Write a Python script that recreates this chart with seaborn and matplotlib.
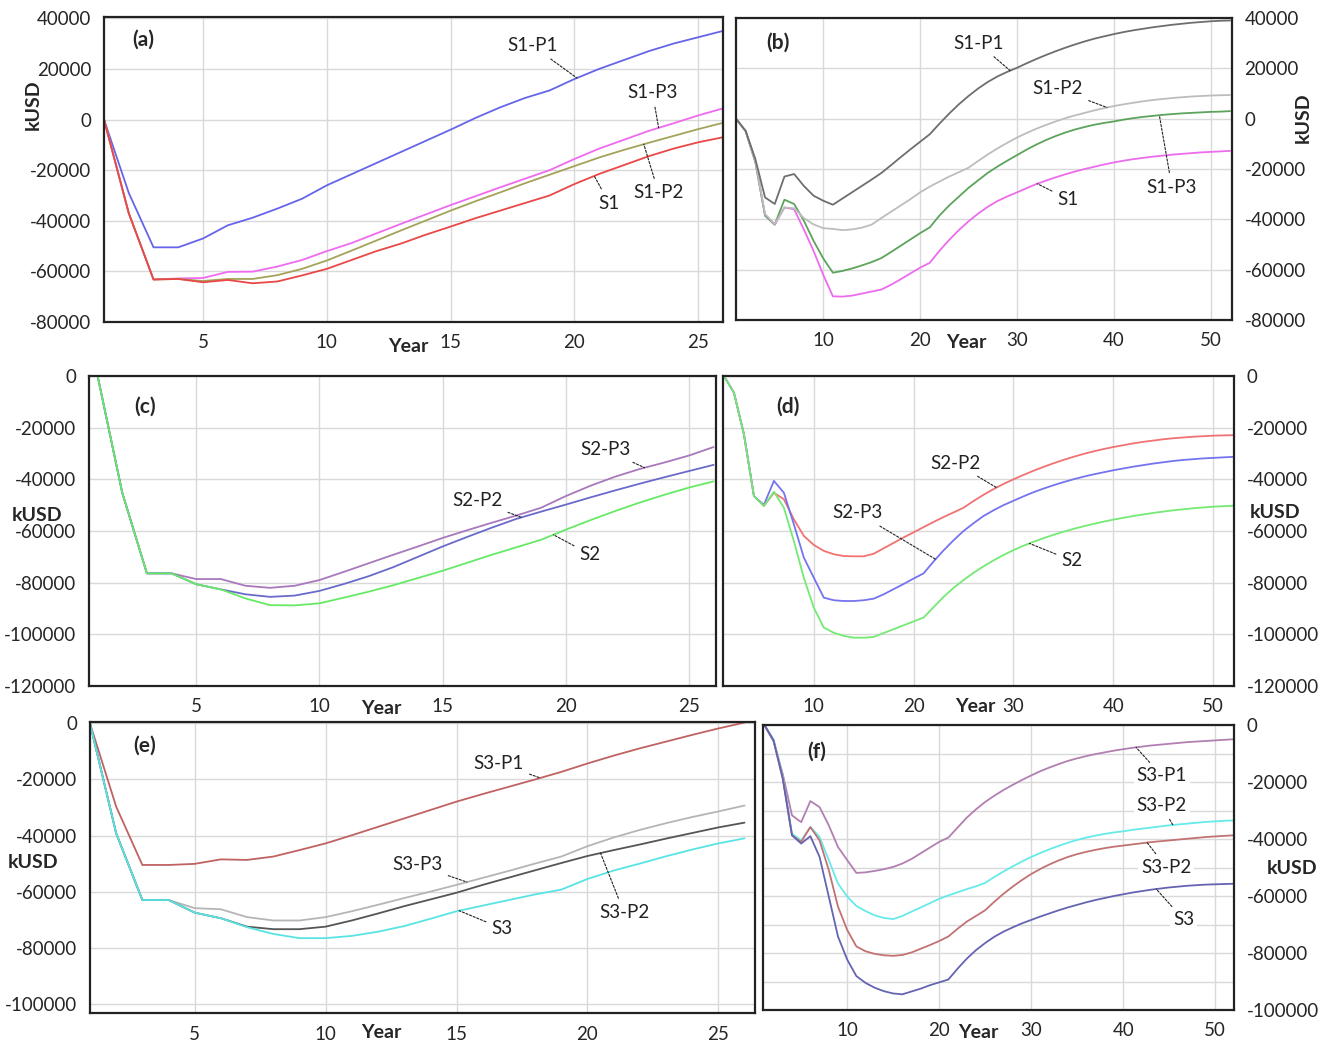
import numpy as np
import matplotlib
matplotlib.use("Agg")
import matplotlib.pyplot as plt
import seaborn as sns

# ---------------- data ----------------
years_a = list(range(1, 27))
years_b = list(range(1, 53))

a_S1P1 = [0, -29000, -50500, -50500, -47000, -41800, -38800, -35200, -31300, -26000, -21600, -17200, -12800,
          -8400, -4000, 600, 4800, 8500, 11500, 16000, 20000, 23500, 27000, 30000, 32500, 35000]
a_S1 = [0, -37000, -63200, -63000, -64300, -63400, -64700, -64000, -61600, -59000, -55500, -52000, -49000,
        -45500, -42300, -39000, -36000, -33000, -30000, -25500, -21500, -18000, -14500, -11500, -9000, -7000]
a_S1P2 = [0, -37000, -63200, -63000, -63800, -63000, -63000, -61500, -59000, -55700, -51800, -47800, -43800,
          -39900, -36000, -32300, -28800, -25200, -21800, -18400, -15000, -12000, -9200, -6500, -3800, -1300]
a_S1P3 = [0, -37000, -63200, -62800, -62600, -60200, -60100, -58100, -55500, -52000, -48800, -45000, -41200,
          -37500, -33800, -30300, -26800, -23400, -20000, -15600, -11500, -8000, -4500, -1500, 1600, 4400]

b_S1P1 = [0, -4900, -16100, -31300, -33900, -23000, -22000, -26700, -30600, -32600, -34200, -31700, -29200,
          -26700, -24200, -21600, -18500, -15300, -12200, -9200, -6200, -2000, 2000, 5700, 9000, 12000, 14600,
          16800, 18600, 20200, 22000, 23700, 25300, 26800, 28200, 29500, 30700, 31800, 32700, 33600, 34400,
          35100, 35700, 36300, 36800, 37300, 37700, 38100, 38400, 38700, 38900, 39000]
b_S1P2 = [0, -4900, -17000, -37900, -41900, -35300, -35600, -39500, -42000, -43500, -43800, -44300, -44000,
          -43300, -42100, -39500, -37000, -34500, -32000, -29300, -27000, -25000, -23000, -21300, -19500, -16800,
          -14200, -11800, -9600, -7500, -5700, -4000, -2500, -1100, 200, 1300, 2300, 3300, 4200, 5000, 5700,
          6300, 6900, 7400, 7800, 8200, 8500, 8800, 9000, 9200, 9300, 9400]
b_S1P3 = [0, -5000, -17000, -38500, -42000, -32200, -33900, -40500, -48500, -55500, -61200, -60500, -59500,
          -58300, -57000, -55400, -53000, -50500, -48000, -45500, -43200, -38500, -34500, -31000, -27500, -24500,
          -21500, -19000, -16700, -14500, -12300, -10300, -8500, -6900, -5500, -4300, -3300, -2400, -1700, -1100,
          -400, 200, 700, 1100, 1500, 1800, 2100, 2300, 2500, 2700, 2800, 3000]
b_S1 = [0, -5000, -17500, -38500, -42200, -35300, -36000, -44000, -52500, -62000, -70600, -70700, -70300,
        -69500, -68700, -67900, -66000, -63800, -61500, -59200, -57300, -52500, -48200, -44300, -40800, -37700,
        -35000, -32700, -30900, -29300, -27600, -26000, -24600, -23300, -22100, -21000, -20000, -19100, -18200,
        -17400, -16700, -16100, -15600, -15100, -14700, -14300, -14000, -13700, -13400, -13200, -13000, -12800]

c_S2 = [0, -45200, -76400, -76400, -80600, -82600, -86100, -88700, -88800, -88000, -85800, -83500, -81000,
        -78200, -75400, -72300, -69200, -66300, -63400, -59500, -55800, -52300, -49000, -46000, -43200, -40800]
c_S2P2 = [0, -45200, -76400, -76400, -80600, -82600, -84500, -85500, -85000, -83200, -80500, -77500, -74000,
          -70000, -66000, -62300, -58700, -55300, -52500, -49800, -47000, -44300, -41700, -39200, -36800, -34400]
c_S2P3 = [0, -45200, -76400, -76400, -78600, -78600, -81200, -82000, -81200, -79000, -75800, -72500, -69200,
          -66000, -62700, -59700, -56800, -54000, -51000, -46500, -42500, -39000, -36000, -33500, -30800, -27500]

d_S2 = [0, -6500, -22600, -46500, -50300, -44800, -51000, -63900, -78100, -89700, -97400, -99400, -100600,
        -101300, -101300, -101000, -99500, -98000, -96500, -95000, -93500, -89500, -85500, -82000, -79000,
        -76200, -73700, -71400, -69300, -67400, -65700, -64200, -62800, -61500, -60300, -59200, -58200, -57300,
        -56400, -55600, -54900, -54200, -53600, -53000, -52500, -52000, -51600, -51200, -50900, -50600, -50400,
        -50200]
d_S2P3 = [0, -6500, -22600, -46500, -49900, -40600, -45200, -57400, -70300, -78100, -85800, -86800, -87100,
          -87100, -86800, -86200, -84500, -82500, -80500, -78400, -76400, -71800, -67500, -63600, -60000, -57000,
          -54200, -52000, -50000, -48300, -46600, -45000, -43600, -42300, -41100, -40000, -39000, -38100, -37300,
          -36500, -35800, -35100, -34500, -33900, -33400, -32900, -32500, -32200, -31900, -31700, -31500, -31300]
d_S2P2 = [0, -6500, -22600, -46500, -50300, -45200, -47700, -55500, -61900, -65400, -67700, -69000, -69700,
          -69800, -69800, -68800, -66700, -64600, -62500, -60500, -58500, -56500, -54600, -52800, -51000, -48400,
          -46000, -43800, -41800, -40000, -38300, -36700, -35200, -33800, -32500, -31300, -30200, -29200, -28300,
          -27500, -26800, -26100, -25500, -25000, -24500, -24100, -23800, -23500, -23300, -23100, -23000, -22900]

e_S3P1 = [0, -29700, -50500, -50500, -50100, -48500, -48700, -47500, -45200, -42800, -39900, -36900, -33900,
          -30900, -27900, -25200, -22600, -20000, -17300, -14300, -11500, -8900, -6500, -4100, -1800, 300]
e_S3 = [0, -39200, -63000, -63000, -67500, -69500, -72700, -75100, -76600, -76600, -75800, -74300, -72300,
        -69700, -67000, -65000, -63000, -61000, -59300, -55500, -52500, -50000, -47400, -45000, -42800, -41000]
e_S3P2 = [0, -39200, -63000, -63000, -67500, -69500, -72500, -73400, -73400, -72500, -70300, -67800, -65200,
          -62800, -60400, -57600, -55000, -52400, -49800, -47300, -45200, -43200, -41100, -39100, -37100, -35400]
e_S3P3 = [0, -39200, -63000, -63000, -65900, -66300, -69100, -70300, -70300, -69100, -67000, -64700, -62300,
          -60000, -57600, -55100, -52600, -50000, -47500, -43800, -40700, -38000, -35600, -33400, -31400, -29300]

f_S3P1 = [0, -5600, -17200, -31700, -34100, -26700, -28800, -35200, -42800, -47400, -51900, -51700, -51200,
          -50600, -49800, -48600, -47000, -45000, -43000, -41000, -39500, -36000, -32500, -29600, -27000, -24800,
          -22800, -21000, -19300, -17700, -16200, -14900, -13700, -12600, -11700, -10900, -10200, -9600, -9000,
          -8500, -8000, -7600, -7200, -6900, -6600, -6300, -6000, -5800, -5600, -5400, -5200, -5000]
f_S3P2_cyan = [0, -5000, -18000, -38100, -40500, -35800, -39300, -47400, -55600, -60200, -63500, -65300, -66800,
               -67700, -68100, -67000, -65500, -64000, -62500, -61000, -59800, -58700, -57600, -56600, -55400,
               -53300, -51400, -49600, -47900, -46300, -44900, -43600, -42400, -41300, -40300, -39500, -38800,
               -38200, -37700, -37300, -36800, -36400, -36000, -35600, -35200, -34900, -34600, -34300, -34000,
               -33800, -33600, -33500]
f_S3P2_brown = [0, -5500, -18500, -38700, -41000, -35800, -40500, -50900, -63700, -71900, -77700, -79400, -80300,
                -80800, -81000, -80700, -79800, -78500, -77200, -75800, -74200, -71500, -69000, -67000, -65000,
                -62000, -59200, -56700, -54400, -52300, -50500, -48900, -47500, -46300, -45300, -44500, -43800,
                -43200, -42700, -42300, -41900, -41500, -41100, -40800, -40500, -40200, -39900, -39600, -39300,
                -39100, -38900, -38700]
f_S3 = [0, -5500, -19000, -38700, -41600, -39000, -46300, -60200, -74200, -82300, -88100, -90500, -92200,
        -93400, -94200, -94500, -93500, -92500, -91300, -90300, -89300, -85500, -82000, -79000, -76500, -74300,
        -72500, -71000, -69600, -68400, -67200, -66100, -65000, -64000, -63100, -62200, -61400, -60700, -60000,
        -59400, -58800, -58300, -57800, -57400, -57000, -56700, -56400, -56200, -56000, -55900, -55800, -55700]

# ---------------- style ----------------
sns.set_style("white")
plt.rcParams['font.family'] = ['Lato', 'DejaVu Sans']

W, H = 1327, 1042
fig = plt.figure(figsize=(W / 100, H / 100), dpi=100)


def place(l, t, r, b):
    return fig.add_axes([l / W, 1 - b / H, (r - l) / W, (b - t) / H])


def style(ax, xlim, ylim, xticks, yticks, right=False, minor=None):
    ax.set_xlim(*xlim)
    ax.set_ylim(*ylim)
    ax.set_xticks(xticks)
    ax.set_yticks(yticks)
    ax.set_yticklabels([str(v) for v in yticks])
    if minor is not None:
        ax.set_yticks(minor, minor=True)
        ax.grid(True, which='minor', axis='y', color='#d9d9d9', lw=1.0)
    ax.grid(True, which='major', color='#d9d9d9', lw=1.0)
    ax.set_axisbelow(True)
    for s in ax.spines.values():
        s.set_color('#222222')
        s.set_linewidth(1.6)
        s.set_visible(True)
    ax.tick_params(length=0, labelsize=13.5, pad=9, which='both')
    if right:
        ax.yaxis.tick_right()
    ax.set_xlabel("")
    ax.set_ylabel("")


def line(ax, x, y, color):
    sns.lineplot(x=x, y=y, ax=ax, color=color, lw=1.3)


def note(ax, text, x, y, tx, ty, box=False):
    ax.annotate(text, xy=(x, y), xytext=(tx, ty), textcoords='data', ha='center', va='center',
                fontsize=13.5, color='#222222',
                bbox=dict(boxstyle='square,pad=0.15', fc='white', ec='none') if box else None,
                arrowprops=dict(arrowstyle='-', ls=(0, (2, 1.5)), lw=0.8, color='#222222',
                                shrinkA=2, shrinkB=0))


def at(x, years, vals):
    return float(np.interp(x, years, vals))


def ftext(px, py, s, **kw):
    fig.text(px / W, 1 - py / H, s, ha='center', va='center', fontsize=14, fontweight='bold', **kw)


def plabel(ax, fx, fy, s):
    ax.text(fx, fy, s, transform=ax.transAxes, fontsize=15, fontweight='bold', va='center')


# ---------------- (a) ----------------
ax = place(104, 17, 723, 322)
line(ax, years_a, a_S1P1, '#6565ea')
line(ax, years_a, a_S1P3, '#f06af0')
line(ax, years_a, a_S1P2, '#a3a35a')
line(ax, years_a, a_S1, '#ea4848')
style(ax, (1, 26), (-80000, 40500), [5, 10, 15, 20, 25], list(range(-80000, 40001, 20000)))
note(ax, 'S1-P1', 20.1, at(20.1, years_a, a_S1P1), 18.3, 29200)
note(ax, 'S1-P3', 23.4, at(23.4, years_a, a_S1P3), 23.15, 10600)
note(ax, 'S1-P2', 22.8, at(22.8, years_a, a_S1P2), 23.4, -29000)
note(ax, 'S1', 20.8, at(20.8, years_a, a_S1), 21.4, -33000)
plabel(ax, 0.045, 0.925, '(a)')
ftext(408, 346, 'Year')
ftext(33, 105, 'kUSD', rotation=90)

# ---------------- (b) ----------------
ax = place(736, 18, 1232, 320)
line(ax, years_b, b_S1, '#ec6cec')
line(ax, years_b, b_S1P3, '#5ca35c')
line(ax, years_b, b_S1P2, '#bdbdbd')
line(ax, years_b, b_S1P1, '#6e6e6e')
style(ax, (1, 52.2), (-80000, 40000), [10, 20, 30, 40, 50], list(range(-80000, 40001, 20000)), right=True)
note(ax, 'S1-P1', 29.3, at(29.3, years_b, b_S1P1), 26, 30000)
note(ax, 'S1-P2', 39.3, at(39.3, years_b, b_S1P2), 34.2, 11800)
note(ax, 'S1-P3', 44.7, at(44.7, years_b, b_S1P3), 46, -27200)
note(ax, 'S1', 32.1, at(32.1, years_b, b_S1), 35.3, -32000)
plabel(ax, 0.06, 0.92, '(b)')
ftext(966, 343, 'Year')
ftext(1303, 118, 'kUSD', rotation=90)

# ---------------- (c) ----------------
ax = place(89, 376, 716, 686)
line(ax, years_a, c_S2P3, '#a878bc')
line(ax, years_a, c_S2P2, '#6a6acc')
line(ax, years_a, c_S2, '#66ea66')
style(ax, (0.65, 26.1), (-120000, 0), [5, 10, 15, 20, 25], list(range(-120000, 1, 20000)))
note(ax, 'S2-P3', 23.2, at(23.2, years_a, c_S2P3), 21.6, -28400)
note(ax, 'S2-P2', 18.2, at(18.2, years_a, c_S2P2), 16.4, -48200)
note(ax, 'S2', 19.5, at(19.5, years_a, c_S2), 21.0, -69100)
plabel(ax, 0.072, 0.9, '(c)')
ftext(381, 708, 'Year')
ftext(37, 515, 'kUSD')

# ---------------- (d) ----------------
ax = place(723, 376, 1234, 686)
line(ax, years_b, d_S2P2, '#f07272')
line(ax, years_b, d_S2P3, '#7474f0')
line(ax, years_b, d_S2, '#74ea74')
style(ax, (0.9, 52.1), (-120000, 0), [10, 20, 30, 40, 50], list(range(-120000, 1, 20000)), right=True)
note(ax, 'S2-P2', 28.3, at(28.3, years_b, d_S2P2), 24.2, -33700)
note(ax, 'S2-P3', 22.2, at(22.2, years_b, d_S2P3), 14.4, -53000)
note(ax, 'S2', 31.6, at(31.6, years_b, d_S2), 35.9, -71500)
plabel(ax, 0.105, 0.9, '(d)')
ftext(975, 706, 'Year')
ftext(1275, 513, 'kUSD')

# ---------------- (e) ----------------
ax = place(90, 722, 755, 1013)
line(ax, years_a, e_S3P1, '#c06262')
line(ax, years_a, e_S3P3, '#b5b5b5')
line(ax, years_a, e_S3P2, '#555555')
line(ax, years_a, e_S3, '#58e4e4')
style(ax, (1, 26.4), (-103300, 500), [5, 10, 15, 20, 25], list(range(-100000, 1, 20000)))
note(ax, 'S3-P1', 18.2, at(18.2, years_a, e_S3P1), 16.6, -14200)
note(ax, 'S3-P3', 15.4, at(15.4, years_a, e_S3P3), 13.5, -50500)
note(ax, 'S3-P2', 20.5, at(20.5, years_a, e_S3P2), 21.4, -67500)
note(ax, 'S3', 15.1, at(15.1, years_a, e_S3), 16.75, -73200)
plabel(ax, 0.065, 0.918, '(e)')
ftext(381, 1033, 'Year')
ftext(33, 863, 'kUSD')

# ---------------- (f) ----------------
ax = place(763, 725, 1234, 1010)
line(ax, years_b, f_S3P1, '#b27fb2')
line(ax, years_b, f_S3P2_cyan, '#66eaea')
line(ax, years_b, f_S3P2_brown, '#c27272')
line(ax, years_b, f_S3, '#6464b2')
style(ax, (0.85, 52.05), (-100000, 0), [10, 20, 30, 40, 50], list(range(-100000, 1, 20000)), right=True,
      minor=list(range(-90000, 0, 20000)))
note(ax, 'S3-P1', 41.4, at(41.4, years_b, f_S3P1), 44.2, -17800, box=True)
note(ax, 'S3-P2', 45.4, at(45.4, years_b, f_S3P2_cyan), 44.2, -28300, box=True)
note(ax, 'S3-P2', 42.6, at(42.6, years_b, f_S3P2_brown), 44.7, -49900, box=True)
note(ax, 'S3', 43.6, at(43.6, years_b, f_S3), 46.6, -68400, box=True)
plabel(ax, 0.095, 0.905, '(f)')
ftext(978, 1033, 'Year')
ftext(1292, 868, 'kUSD')

fig.savefig('out.png', dpi=100)
